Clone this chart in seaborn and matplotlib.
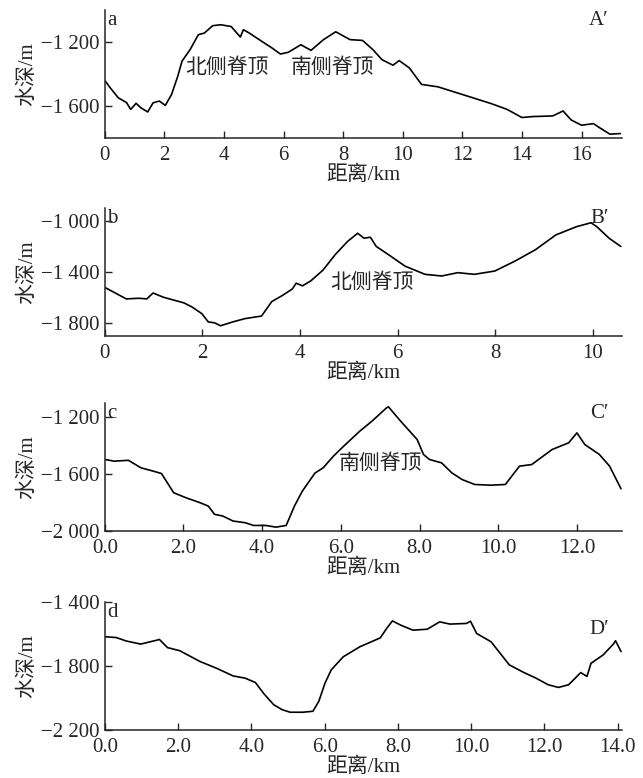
import matplotlib
matplotlib.use("Agg")
import matplotlib.pyplot as plt
import seaborn as sns
import pandas as pd
from matplotlib.ticker import FuncFormatter

# profile A-A'
dist_a = [0.0, 0.18, 0.45, 0.73, 0.87, 1.05, 1.2, 1.44, 1.62, 1.83, 2.03, 2.24, 2.45, 2.59,
          2.86, 3.14, 3.34, 3.62, 3.89, 4.24, 4.55, 4.65, 4.85, 5.27, 5.61, 5.89, 6.16,
          6.58, 6.92, 7.34, 7.75, 8.23, 8.65, 9.0, 9.3, 9.67, 9.88, 10.22, 10.63, 11.18,
          12.0, 12.97, 13.5, 14.0, 14.35, 15.03, 15.38, 15.65, 16.0, 16.4, 16.6, 16.95, 17.3]
depth_a = [-1440, -1486, -1548, -1579, -1621, -1583, -1610, -1637, -1580, -1569, -1596,
           -1528, -1413, -1320, -1248, -1154, -1144, -1098, -1092, -1103, -1169, -1123,
           -1144, -1196, -1237, -1275, -1264, -1217, -1252, -1185, -1136, -1185, -1190,
           -1248, -1310, -1345, -1316, -1362, -1465, -1480, -1528, -1585, -1621, -1672,
           -1666, -1662, -1631, -1687, -1720, -1710, -1735, -1776, -1772]

# profile B-B'
dist_b = [0.0, 0.19, 0.44, 0.70, 0.86, 0.99, 1.2, 1.62, 1.79, 1.99, 2.12, 2.25, 2.37, 2.62,
          2.87, 3.21, 3.42, 3.63, 3.84, 3.92, 4.05, 4.22, 4.47, 4.72, 4.97, 5.18, 5.31,
          5.44, 5.56, 5.81, 6.15, 6.56, 6.9, 7.23, 7.57, 7.99, 8.4, 8.82, 9.24, 9.66,
          9.96, 10.08, 10.33, 10.57]
depth_b = [-1520, -1559, -1610, -1605, -1610, -1564, -1597, -1641, -1674, -1726, -1790,
           -1797, -1820, -1790, -1764, -1744, -1631, -1585, -1533, -1487, -1508, -1469,
           -1385, -1264, -1162, -1097, -1136, -1128, -1200, -1264, -1354, -1418, -1431,
           -1405, -1418, -1392, -1315, -1226, -1110, -1046, -1015, -1046, -1136, -1200]

# profile C-C'
dist_c = [0.0, 0.24, 0.6, 0.92, 1.23, 1.44, 1.59, 1.75, 2.06, 2.42, 2.63, 2.79, 3.0, 3.26,
          3.57, 3.78, 4.09, 4.35, 4.61, 4.82, 5.02, 5.34, 5.55, 5.81, 6.07, 6.48, 6.79,
          7.16, 7.21, 7.52, 7.94, 8.1, 8.25, 8.56, 8.82, 9.08, 9.4, 9.81, 10.18, 10.54,
          10.85, 11.37, 11.79, 12.0, 12.2, 12.57, 12.83, 13.12]
depth_c = [-1497, -1509, -1503, -1556, -1579, -1596, -1661, -1731, -1766, -1801, -1825,
           -1883, -1895, -1930, -1942, -1961, -1961, -1973, -1961, -1825, -1720, -1593,
           -1556, -1474, -1404, -1298, -1228, -1134, -1127, -1228, -1357, -1462, -1497,
           -1521, -1591, -1638, -1673, -1678, -1673, -1544, -1533, -1427, -1380, -1310,
           -1392, -1462, -1544, -1703]

# profile D-D'
dist_d = [0.0, 0.31, 0.59, 0.98, 1.43, 1.49, 1.71, 2.04, 2.6, 3.05, 3.5, 3.83, 4.11, 4.34,
          4.61, 4.84, 5.06, 5.4, 5.68, 5.84, 6.01, 6.18, 6.51, 6.96, 7.52, 7.69, 7.85,
          8.08, 8.41, 8.8, 9.14, 9.42, 9.87, 9.98, 10.15, 10.54, 11.04, 11.44, 11.77,
          12.1, 12.38, 12.66, 12.99, 13.16, 13.27, 13.6, 13.88, 13.94, 14.09]
depth_d = [-1617, -1622, -1644, -1663, -1638, -1634, -1685, -1704, -1772, -1814, -1862,
           -1876, -1903, -1973, -2042, -2073, -2089, -2089, -2083, -2021, -1907, -1824,
           -1742, -1680, -1624, -1566, -1518, -1545, -1576, -1570, -1524, -1538, -1534,
           -1520, -1597, -1648, -1793, -1841, -1876, -1917, -1934, -1917, -1841, -1865,
           -1783, -1731, -1663, -1642, -1710]

panel_letters = ["a", "b", "c", "d"]
end_labels = ["A\u2032", "B\u2032", "C\u2032", "D\u2032"]

sns.set_style("ticks")
plt.rcParams["font.family"] = ["Liberation Serif", "Noto Sans CJK SC"]
plt.rcParams["font.size"] = 15
plt.rcParams["axes.linewidth"] = 1.1
plt.rcParams["xtick.direction"] = "in"
plt.rcParams["ytick.direction"] = "in"


def depth_fmt(v, pos):
    s = f"{int(round(abs(v))):,}".replace(",", " ")
    return ("\u2212" + s) if v < 0 else s


profiles = [
    (dist_a, depth_a, (0, 17.35), (-1800, -1000), [-1600, -1200], range(0, 17, 2), "{:.0f}"),
    (dist_b, depth_b, (0, 10.59), (-1900, -900), [-1800, -1400, -1000], range(0, 11, 2), "{:.0f}"),
    (dist_c, depth_c, (0, 13.14), (-2000, -1100), [-2000, -1600, -1200], range(0, 13, 2), "{:.1f}"),
    (dist_d, depth_d, (0, 14.11), (-2200, -1400), [-2200, -1800, -1400], range(0, 15, 2), "{:.1f}"),
]

bottoms = [0.8226, 0.5681, 0.3175, 0.0617]
fig = plt.figure(figsize=(6.43, 7.78), dpi=100)

axes = []
for i, (x, y, xl, yl, yt, xt, xf) in enumerate(profiles):
    ax = fig.add_axes([0.163, bottoms[i], 0.804, 0.1645])
    df = pd.DataFrame({"dist": x, "depth": y})
    sns.lineplot(data=df, x="dist", y="depth", ax=ax, color="black", linewidth=1.2)
    ax.set_xlim(*xl)
    ax.set_ylim(*yl)
    ax.set_xticks(list(xt))
    ax.set_xticklabels([xf.format(v) for v in xt])
    ax.set_yticks(yt)
    ax.yaxis.set_major_formatter(FuncFormatter(depth_fmt))
    ax.tick_params(axis="x", length=5, width=1, pad=6, labelsize=15)
    ax.tick_params(axis="y", length=5, width=1, pad=4, labelsize=15)
    sns.despine(ax=ax)
    ax.set_xlabel("距离/km", fontsize=15, labelpad=0)
    ax.set_ylabel("水深/m", fontsize=15)
    ax.yaxis.set_label_coords(-0.13, 0.5)
    ax.text(0.005, 0.99, panel_letters[i], transform=ax.transAxes, ha="left", va="top", fontsize=15)
    ax.text(0.975, 0.99 if i < 3 else 0.86, end_labels[i], transform=ax.transAxes,
            ha="right", va="top", fontsize=15)
    axes.append(ax)

axes[0].text(4.1, -1365, "北侧脊顶", ha="center", va="center", fontsize=15)
axes[0].text(7.65, -1365, "南侧脊顶", ha="center", va="center", fontsize=15)
axes[1].text(5.47, -1485, "北侧脊顶", ha="center", va="center", fontsize=15)
axes[2].text(7.0, -1533, "南侧脊顶", ha="center", va="center", fontsize=15)

fig.savefig("out.png", dpi=100)
